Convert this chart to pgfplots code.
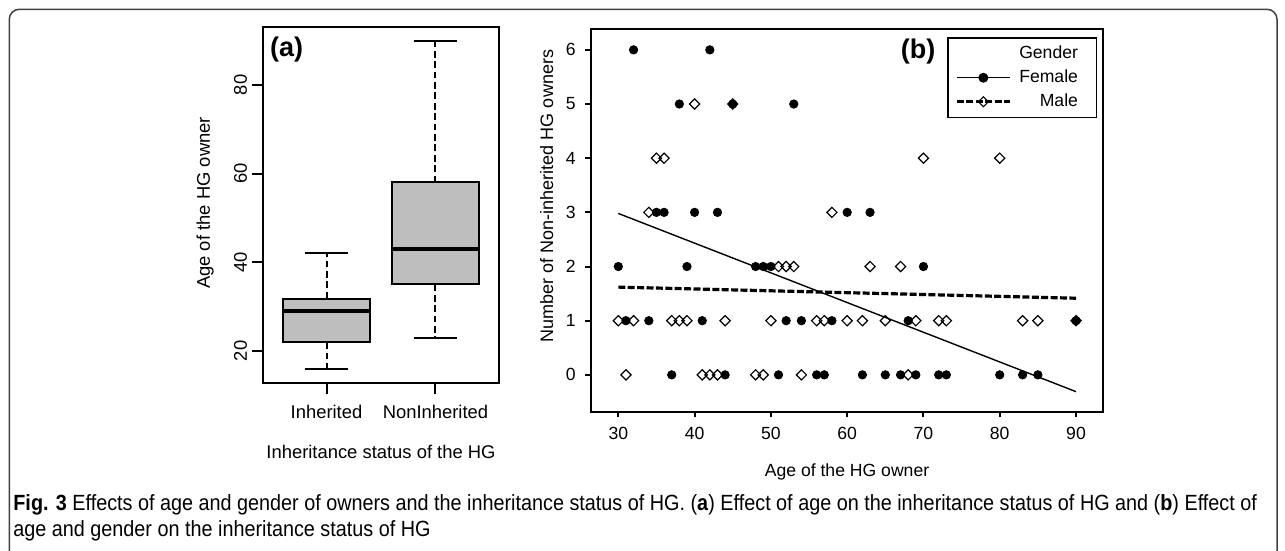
\documentclass[border=0pt]{standalone}
\usepackage{fontspec}
\setmainfont{Liberation Sans}
\newfontfamily\capfont[FakeStretch=0.9]{Liberation Sans}
\usepackage{pgfplots}
\usepackage{pgfplotstable}
\pgfplotsset{compat=1.18}
\usepgfplotslibrary{statistics}
\definecolor{boxgray}{HTML}{BEBEBE}

\pgfplotstableread{
age n
32 6
42 6
38 5
45 5
53 5
35 3
36 3
40 3
43 3
60 3
63 3
30 2
39 2
48 2
49 2
50 2
70 2
31 1
34 1
41 1
52 1
54 1
58 1
68 1
90 1
37 0
44 0
51 0
56 0
57 0
62 0
65 0
67 0
69 0
72 0
73 0
80 0
83 0
85 0
}\femaletab

\pgfplotstableread{
age n
40 5
45 5
35 4
36 4
70 4
80 4
34 3
58 3
51 2
52 2
53 2
63 2
67 2
30 1
32 1
37 1
38 1
39 1
44 1
50 1
56 1
57 1
60 1
62 1
65 1
69 1
72 1
73 1
83 1
85 1
90 1
31 0
41 0
42 0
43 0
48 0
49 0
54 0
68 0
}\maletab

\begin{document}
\begin{tikzpicture}[font=\fontsize{9.2pt}{11pt}\selectfont]
\useasboundingbox (0,0) rectangle (642.5pt,275.5pt);
% outer frame
\draw[line width=0.75pt, black!75, rounded corners=5pt] (4.65pt,-3pt) -- (4.65pt,270.85pt) -- (638.5pt,270.85pt) -- (638.5pt,-3pt);

% ---------------- panel (a)
\begin{axis}[
  at={(131.65pt,84.15pt)}, anchor=south west,
  width=117.7pt, height=177.7pt, scale only axis,
  xmin=0.42, xmax=2.58, ymin=12.85, ymax=93.0,
  axis line style={line width=1pt},
  xtick={1,2}, xticklabels={Inherited,NonInherited},
  ytick={20,40,60,80},
  xtick pos=left, ytick pos=left,
  tick align=outside, major tick length=5.5pt,
  every tick/.style={line width=1pt, black},
  xticklabel style={anchor=north, inner sep=0pt},
  xticklabel shift=5.6pt,
  yticklabel style={rotate=90, anchor=south, inner sep=0pt},
  yticklabel shift=2.4pt,
  /pgf/number format/assume math mode=true,
  boxplot/draw direction=y,
  boxplot/every median/.style={line width=2.2pt},
  boxplot/draw/lower whisker/.code={%
    \draw[line width=1pt, dash pattern=on 3.4pt off 1.8pt] (boxplot box cs:\pgfplotsboxplotvalue{lower quartile},0.5) -- (boxplot box cs:\pgfplotsboxplotvalue{lower whisker},0.5);
    \draw[line width=1pt] (boxplot whisker cs:\pgfplotsboxplotvalue{lower whisker},0) -- (boxplot whisker cs:\pgfplotsboxplotvalue{lower whisker},1);
  },
  boxplot/draw/upper whisker/.code={%
    \draw[line width=1pt, dash pattern=on 3.4pt off 1.8pt] (boxplot box cs:\pgfplotsboxplotvalue{upper quartile},0.5) -- (boxplot box cs:\pgfplotsboxplotvalue{upper whisker},0.5);
    \draw[line width=1pt] (boxplot whisker cs:\pgfplotsboxplotvalue{upper whisker},0) -- (boxplot whisker cs:\pgfplotsboxplotvalue{upper whisker},1);
  },
]
\addplot[draw=black, fill=boxgray, line width=1pt, mark=none,
  boxplot prepared={draw position=1, median=29, lower quartile=22, upper quartile=31.8,
    lower whisker=16, upper whisker=42, box extend=0.8, whisker extend=0.4}] coordinates {};
\addplot[draw=black, fill=boxgray, line width=1pt, mark=none,
  boxplot prepared={draw position=2, median=43, lower quartile=35, upper quartile=58,
    lower whisker=23, upper whisker=90, box extend=0.8, whisker extend=0.4}] coordinates {};
\end{axis}
\node[font=\fontsize{13.5pt}{15pt}\selectfont\bfseries] at (143.35pt,250.5pt) {(a)};
\node at (190.5pt,49.65pt) {Inheritance status of the HG};
\node[rotate=90] at (102.5pt,174pt) {Age of the HG owner};

% ---------------- panel (b)
\begin{axis}[
  at={(295.35pt,69.65pt)}, anchor=south west,
  width=256.3pt, height=191.2pt, scale only axis,
  xmin=26.38, xmax=93.58, ymin=-0.68, ymax=6.38,
  axis line style={line width=1pt},
  xtick={30,40,...,90}, ytick={0,1,...,6},
  xtick pos=left, ytick pos=left,
  tick align=outside, major tick length=2.75pt,
  every tick/.style={line width=1pt, black},
  tick label style={font=\fontsize{8.8pt}{10pt}\selectfont},
  xticklabel style={anchor=north, inner sep=0pt},
  xticklabel shift=4.9pt,
  yticklabel style={anchor=east, inner sep=0pt},
  yticklabel shift=4.55pt,
  /pgf/number format/assume math mode=true,
  legend cell align=right,
  legend style={at={(0.9883,0.979)}, anchor=north east, draw=black, line width=0.75pt,
    inner xsep=3.7pt, inner ysep=3.5pt, row sep=3.3pt, column sep=4pt,
    font=\fontsize{8.8pt}{10.5pt}\selectfont,
    nodes={inner sep=0pt, text height=6.8pt, text depth=1.9pt}},
]
\addlegendimage{empty legend}
\addlegendentry{Gender\hspace*{5.6pt}}
\addlegendimage{legend image code/.code={
  \draw[line width=0.7pt, solid] (0pt,0pt) -- (26.3pt,0pt);
  \fill[black] (13.15pt,0pt) circle (2.1pt);}}
\addlegendentry{Female\hspace*{5.6pt}}
\addlegendimage{legend image code/.code={
  \draw[line width=1.6pt, dash pattern=on 3.5pt off 1.2pt] (0pt,0pt) -- (26.3pt,0pt);
  \draw[line width=0.6pt, solid] (10.65pt,0pt) -- (13.15pt,2.5pt) -- (15.65pt,0pt) -- (13.15pt,-2.5pt) -- cycle;}}
\addlegendentry{Male\hspace*{5.6pt}}

\addplot[only marks, mark=*, mark size=2.1pt, black, forget plot] table[x=age, y=n] {\femaletab};
\addplot[only marks, mark=square, mark size=1.8pt, black, forget plot,
  mark options={rotate=45, line width=0.6pt, solid}] table[x=age, y=n] {\maletab};
\addplot[black, line width=0.7pt, forget plot] coordinates {(30,2.98) (90,-0.31)};
\addplot[black, line width=1.6pt, dash pattern=on 3.5pt off 1.2pt, forget plot] coordinates {(30,1.62) (90,1.415)};
\end{axis}
\node[font=\fontsize{13.5pt}{15pt}\selectfont\bfseries] at (459pt,249.5pt) {(b)};
\node[font=\fontsize{8.8pt}{10.5pt}\selectfont] at (423.5pt,39.5pt) {Age of the HG owner};
\node[rotate=90, font=\fontsize{9pt}{11pt}\selectfont] at (273.35pt,177.5pt) {Number of Non-inherited HG owners};

% caption
\node[anchor=base west, inner sep=0pt, font=\capfont\fontsize{11pt}{13pt}\selectfont] at (6.5pt,20pt)
  {\textbf{Fig. 3} Effects of age and gender of owners and the inheritance status of HG. (\textbf{a}) Effect of age on the inheritance status of HG and (\textbf{b}) Effect of};
\node[anchor=base west, inner sep=0pt, font=\capfont\fontsize{11pt}{13pt}\selectfont] at (6.5pt,7pt)
  {age and gender on the inheritance status of HG};
\end{tikzpicture}
\end{document}
